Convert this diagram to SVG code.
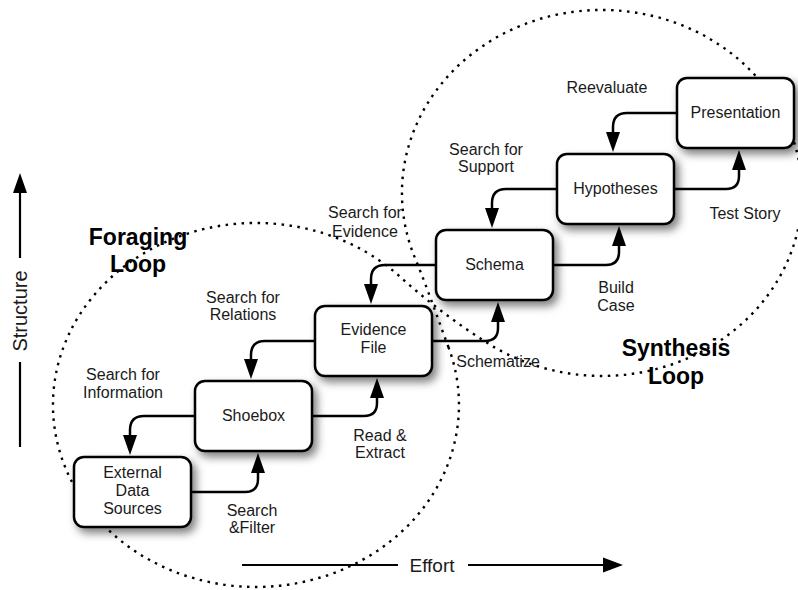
<svg xmlns="http://www.w3.org/2000/svg" width="798" height="590" viewBox="0 0 798 590">
  <defs>
    <filter id="shadow" x="-20%" y="-20%" width="150%" height="160%">
      <feDropShadow dx="4" dy="5" stdDeviation="4" flood-color="#000" flood-opacity="0.5"/>
    </filter>
    <marker id="head" viewBox="0 0 20 14" refX="12" refY="7" markerWidth="20" markerHeight="14" markerUnits="userSpaceOnUse" orient="auto">
      <path d="M0,0 L20,7 L0,14 Z" fill="#000"/>
    </marker>
  </defs>
  <style>
    text { font-family: "Liberation Sans", Arial, Helvetica, sans-serif; fill: #1a1a1a; }
    .node rect { fill: #fff; stroke: #000; stroke-width: 2.5; }
    .node text { font-size: 16px; text-anchor: middle; }
    .lbl { font-size: 16px; text-anchor: middle; }
    .loop { font-size: 23px; font-weight: bold; text-anchor: middle; fill: #000; }
    .axis { font-size: 20px; text-anchor: middle; }
    .edge { fill: none; stroke: #000; stroke-width: 2.5; marker-end: url(#head); }
    .axisline { fill: none; stroke: #000; stroke-width: 2.2; }
    .dots { fill: none; stroke: #000; stroke-width: 2.4; stroke-dasharray: 2.5 5.5; }
  </style>

  <rect width="798" height="590" fill="#fff"/>

  <!-- figure-eight boundary of the foraging and synthesis loops -->
  <path class="dots" d="M448.4,347 A203,182 0 1 1 400,276.7 C427.4,301.5 458.6,325 490,344.6 A200,183 0 1 0 414.6,257 C426.8,286.6 437.2,316.9 448.4,347 Z"/>

  <!-- axes -->
  <g id="axis-structure">
    <line class="axisline" x1="20" y1="190" x2="20" y2="258"/>
    <line class="axisline" x1="20" y1="362" x2="20" y2="447"/>
    <path d="M20,173 L27,193 L13,193 Z" fill="#000"/>
    <text class="axis" transform="translate(27,311) rotate(-90)">Structure</text>
  </g>
  <g id="axis-effort">
    <line class="axisline" x1="242" y1="565" x2="398" y2="565"/>
    <line class="axisline" x1="468" y1="565" x2="606" y2="565"/>
    <path d="M623,565 L603,557.5 L603,572.5 Z" fill="#000"/>
    <text class="axis" x="432" y="572" style="font-size:19px">Effort</text>
  </g>

  <!-- loop titles -->
  <text class="loop" x="138" y="245">Foraging</text>
  <text class="loop" x="138" y="272">Loop</text>
  <text class="loop" x="676" y="356">Synthesis</text>
  <text class="loop" x="676" y="384">Loop</text>

  <!-- connectors -->
  <g id="connectors">
    <!-- forward steps -->
    <path class="edge" d="M191,492 H245 Q258,492 258,479 V461"/>
    <path class="edge" d="M311,416 H364 Q377,416 377,403 V386"/>
    <path class="edge" d="M432,341 H485 Q498,341 498,328 V310"/>
    <path class="edge" d="M553,265 H606 Q619,265 619,252 V234"/>
    <path class="edge" d="M674,189 H726 Q739,189 739,176 V158"/>
    <!-- feedback steps -->
    <path class="edge" d="M195,416 H144 Q130,416 130,430 V447"/>
    <path class="edge" d="M315,341 H265 Q251,341 251,355 V371"/>
    <path class="edge" d="M436,265 H385 Q371,265 371,279 V296"/>
    <path class="edge" d="M557,189 H506 Q492,189 492,203 V220"/>
    <path class="edge" d="M677,113 H627 Q613,113 613,127 V144"/>
  </g>

  <!-- connector labels -->
  <g id="edge-labels">
    <text class="lbl" x="123" y="380">Search for</text>
    <text class="lbl" x="123" y="398">Information</text>
    <text class="lbl" x="252" y="516">Search</text>
    <text class="lbl" x="252" y="533">&amp;Filter</text>
    <text class="lbl" x="243" y="303">Search for</text>
    <text class="lbl" x="243" y="320">Relations</text>
    <text class="lbl" x="380" y="441">Read &amp;</text>
    <text class="lbl" x="380" y="458">Extract</text>
    <text class="lbl" x="365" y="218">Search for</text>
    <text class="lbl" x="365" y="237">Evidence</text>
    <text class="lbl" x="498" y="367">Schematize</text>
    <text class="lbl" x="486" y="155">Search for</text>
    <text class="lbl" x="486" y="172">Support</text>
    <text class="lbl" x="616" y="293">Build</text>
    <text class="lbl" x="616" y="311">Case</text>
    <text class="lbl" x="607" y="93">Reevaluate</text>
    <text class="lbl" x="745" y="219">Test Story</text>
  </g>

  <!-- nodes -->
  <g id="external-data-sources" class="node">
    <rect x="74" y="457" width="117" height="70" rx="10" filter="url(#shadow)"/>
    <text x="132.5" y="478">External</text>
    <text x="132.5" y="496">Data</text>
    <text x="132.5" y="514">Sources</text>
  </g>
  <g id="shoebox" class="node">
    <rect x="195" y="381" width="117" height="70" rx="10" filter="url(#shadow)"/>
    <text x="253.5" y="421">Shoebox</text>
  </g>
  <g id="evidence-file" class="node">
    <rect x="315" y="306" width="117" height="70" rx="10" filter="url(#shadow)"/>
    <text x="373.5" y="335">Evidence</text>
    <text x="373.5" y="353">File</text>
  </g>
  <g id="schema" class="node">
    <rect x="436" y="230" width="117" height="70" rx="10" filter="url(#shadow)"/>
    <text x="494.5" y="270">Schema</text>
  </g>
  <g id="hypotheses" class="node">
    <rect x="557" y="154" width="117" height="70" rx="10" filter="url(#shadow)"/>
    <text x="615.5" y="194">Hypotheses</text>
  </g>
  <g id="presentation" class="node">
    <rect x="677" y="78" width="117" height="70" rx="10" filter="url(#shadow)"/>
    <text x="735.5" y="118">Presentation</text>
  </g>
</svg>
